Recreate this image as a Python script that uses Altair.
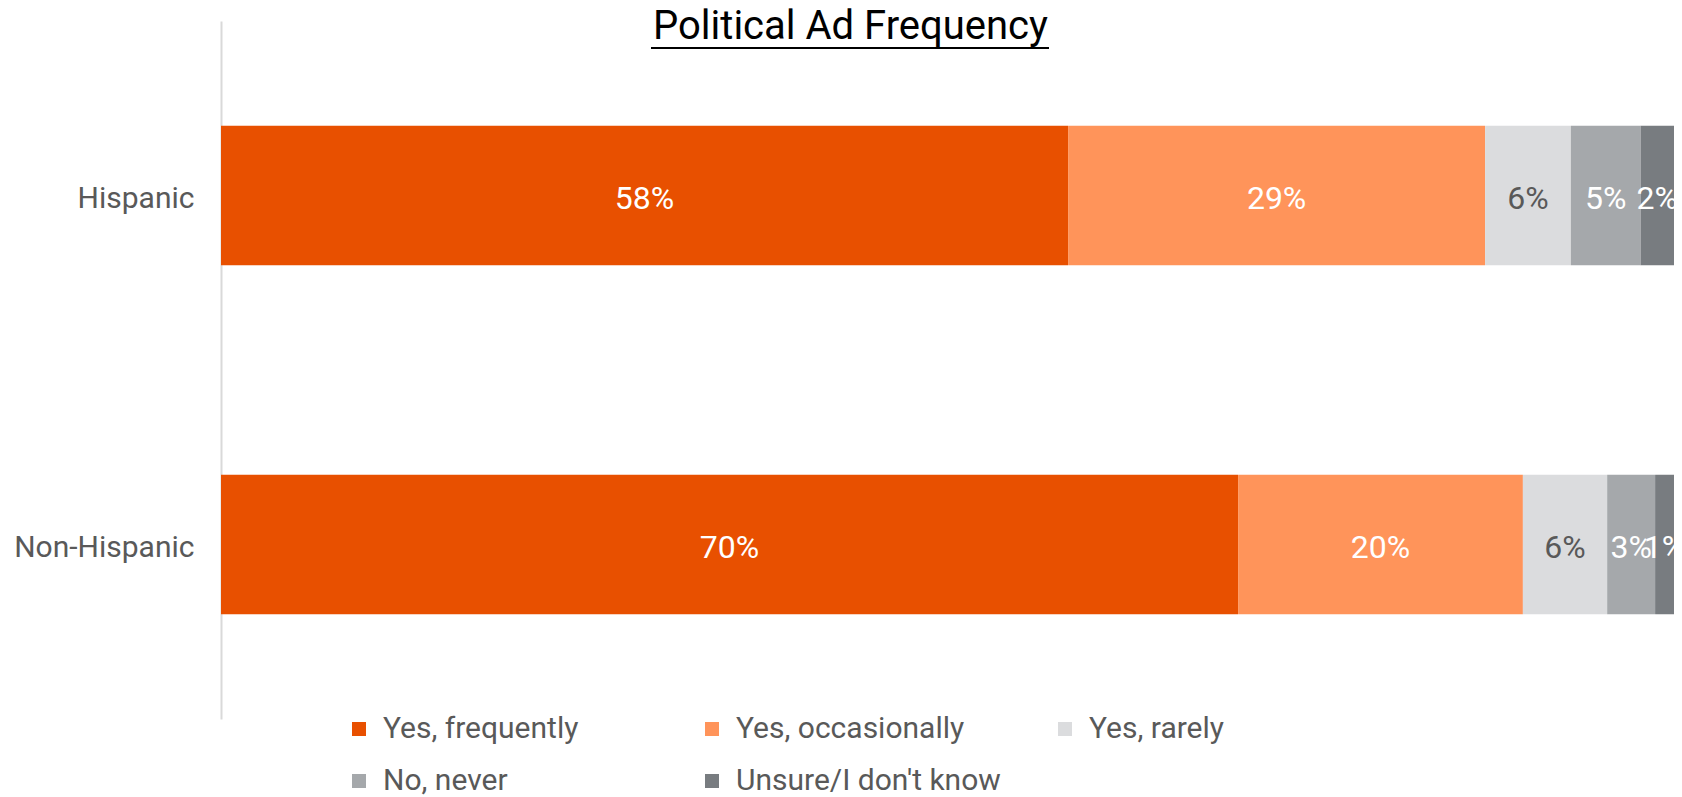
import altair as alt
import pandas as pd

FONT = "Roboto"
TEXT_COLOR = "#595959"

groups = ["Hispanic", "Non-Hispanic"]
categories = ["Yes, frequently", "Yes, occasionally", "Yes, rarely", "No, never", "Unsure/I don't know"]
hispanic = [58.3, 28.7, 5.9, 4.8, 2.3]
non_hispanic = [70.0, 19.6, 5.8, 3.3, 1.3]
colors = ["#E85000", "#FF945A", "#DBDCDE", "#A5A8AB", "#787C80"]

rows = []
for g, vals in zip(groups, [hispanic, non_hispanic]):
    for i, (c, v) in enumerate(zip(categories, vals)):
        rows.append({"group": g, "category": c, "value": v, "order": i,
                     "label": f"{round(v)}%"})
df = pd.DataFrame(rows)

xscale = alt.Scale(domain=[0, 100], nice=False, zero=True)
yscale = alt.Scale(domain=groups, paddingInner=0.6, paddingOuter=0.3)

base = alt.Chart(df)

bars = base.mark_bar().encode(
    y=alt.Y("group:N", sort=groups, title=None, scale=yscale,
            axis=alt.Axis(ticks=False, domainColor="#D9D9D9", domainWidth=2,
                          labelFontSize=30, labelColor=TEXT_COLOR, labelFont=FONT,
                          labelPadding=27, labelLimit=0, labelOffset=3)),
    x=alt.X("value:Q", stack="zero", axis=None, scale=xscale),
    color=alt.Color("category:N", sort=categories,
                    scale=alt.Scale(domain=categories, range=colors),
                    legend=alt.Legend(title=None, orient="none", legendX=123, legendY=693,
                                      direction="horizontal", columns=3,
                                      symbolType="square", symbolSize=196,
                                      symbolStrokeWidth=0, labelFontSize=30,
                                      labelColor=TEXT_COLOR, labelFont=FONT,
                                      gridAlign="all", columnPadding=49, rowPadding=22,
                                      labelOffset=9, padding=0, labelLimit=0)),
    order=alt.Order("order:Q"),
)

labels = base.transform_stack(
    stack="value", as_=["x0", "x1"], groupby=["group"], sort=[alt.SortField("order")]
).transform_calculate(
    mid="(datum.x0 + datum.x1) / 2"
).mark_text(fontSize=32, font=FONT, align="center", baseline="middle", dy=3).encode(
    y=alt.Y("group:N", sort=groups, scale=yscale),
    x=alt.X("mid:Q", scale=xscale, axis=None),
    text="label:N",
    color=alt.condition("datum.category === 'Yes, rarely'", alt.value(TEXT_COLOR), alt.value("white")),
)

underline = alt.Chart(pd.DataFrame({"t": [0]})).mark_rule(color="black", strokeWidth=2).encode(
    x=alt.value(430), x2=alt.value(828), y=alt.value(27)
)

chart = alt.layer(bars, labels, underline).properties(
    width=1453,
    height=698,
    title=alt.TitleParams("Political Ad Frequency", fontSize=40, font=FONT, fontWeight="normal",
                          color="black", anchor="middle", frame="group", dx=-97, dy=58,
                          offset=0, baseline="alphabetic"),
    autosize=alt.AutoSizeParams(type="none"),
    padding={"left": 213, "top": 13, "right": 0, "bottom": 76},
    background="white",
).configure_view(strokeWidth=0)

chart.save("out.html", embed_options={"renderer": "svg", "actions": False})
